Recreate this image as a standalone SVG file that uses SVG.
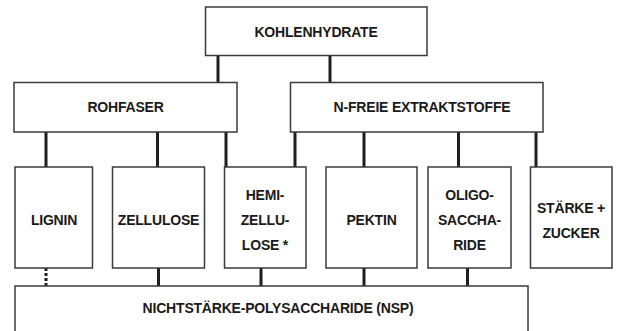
<svg xmlns="http://www.w3.org/2000/svg" width="617" height="331" viewBox="0 0 617 331">
<style>
.box{fill:#fff;stroke:#3a3a3a;stroke-width:1.5}
.t{font-family:"Liberation Sans",Arial,sans-serif;font-weight:bold;font-size:14px;fill:#1a1a1a;text-anchor:middle;letter-spacing:-0.2px}
.c{stroke:#1e1e1e;stroke-width:3;fill:none}
.d{stroke:#1e1e1e;stroke-width:3;fill:none;stroke-dasharray:3 2}
</style>
<rect width="617" height="331" fill="#fff"/>
<g id="connectors">
<line class="c" x1="218" y1="55" x2="218" y2="83"/>
<line class="c" x1="330" y1="55" x2="330" y2="83"/>
<line class="c" x1="46" y1="132" x2="46" y2="168"/>
<line class="c" x1="157.5" y1="132" x2="157.5" y2="168"/>
<line class="c" x1="226" y1="132" x2="226" y2="168"/>
<line class="c" x1="295" y1="132" x2="295" y2="168"/>
<line class="c" x1="364" y1="132" x2="364" y2="168"/>
<line class="c" x1="458.5" y1="132" x2="458.5" y2="168"/>
<line class="c" x1="536" y1="132" x2="536" y2="168"/>
<line class="d" x1="46" y1="268" x2="46" y2="286"/>
<line class="c" x1="158.5" y1="268" x2="158.5" y2="286"/>
<line class="c" x1="261" y1="268" x2="261" y2="286"/>
<line class="c" x1="364" y1="268" x2="364" y2="286"/>
<line class="c" x1="467.5" y1="268" x2="467.5" y2="286"/>
</g>
<g id="kohlenhydrate"><rect class="box" x="205.5" y="7" width="221.5" height="48.5"/><text class="t" x="316" y="37">KOHLENHYDRATE</text></g>
<g id="rohfaser"><rect class="box" x="14" y="82.5" width="223" height="49.5"/><text class="t" x="125.5" y="112">ROHFASER</text></g>
<g id="nfreie"><rect class="box" x="290.5" y="82.5" width="252.5" height="49.5"/><text class="t" x="422" y="112">N-FREIE EXTRAKTSTOFFE</text></g>
<g id="lignin"><rect class="box" x="15" y="167" width="77.5" height="101"/><text class="t" x="54" y="225">LIGNIN</text></g>
<g id="zellulose"><rect class="box" x="112.5" y="167" width="92" height="101"/><text class="t" x="158.5" y="225">ZELLULOSE</text></g>
<g id="hemizellulose"><rect class="box" x="224.5" y="167" width="81.5" height="101"/><text class="t" x="265" y="200">HEMI-</text><text class="t" x="265" y="225">ZELLU-</text><text class="t" x="265" y="250">LOSE *</text></g>
<g id="pektin"><rect class="box" x="326" y="167" width="91" height="101"/><text class="t" x="371.5" y="225">PEKTIN</text></g>
<g id="oligosaccharide"><rect class="box" x="428" y="167" width="83" height="101"/><text class="t" x="469.5" y="200">OLIGO-</text><text class="t" x="469.5" y="225">SACCHA-</text><text class="t" x="469.5" y="250">RIDE</text></g>
<g id="staerke"><rect class="box" x="530.5" y="167" width="81.5" height="101"/><text class="t" x="571" y="212.5">STÄRKE +</text><text class="t" x="571" y="237.5">ZUCKER</text></g>
<g id="nsp"><rect class="box" x="15" y="286" width="513" height="60"/><text class="t" x="278" y="313">NICHTSTÄRKE-POLYSACCHARIDE (NSP)</text></g>
</svg>
